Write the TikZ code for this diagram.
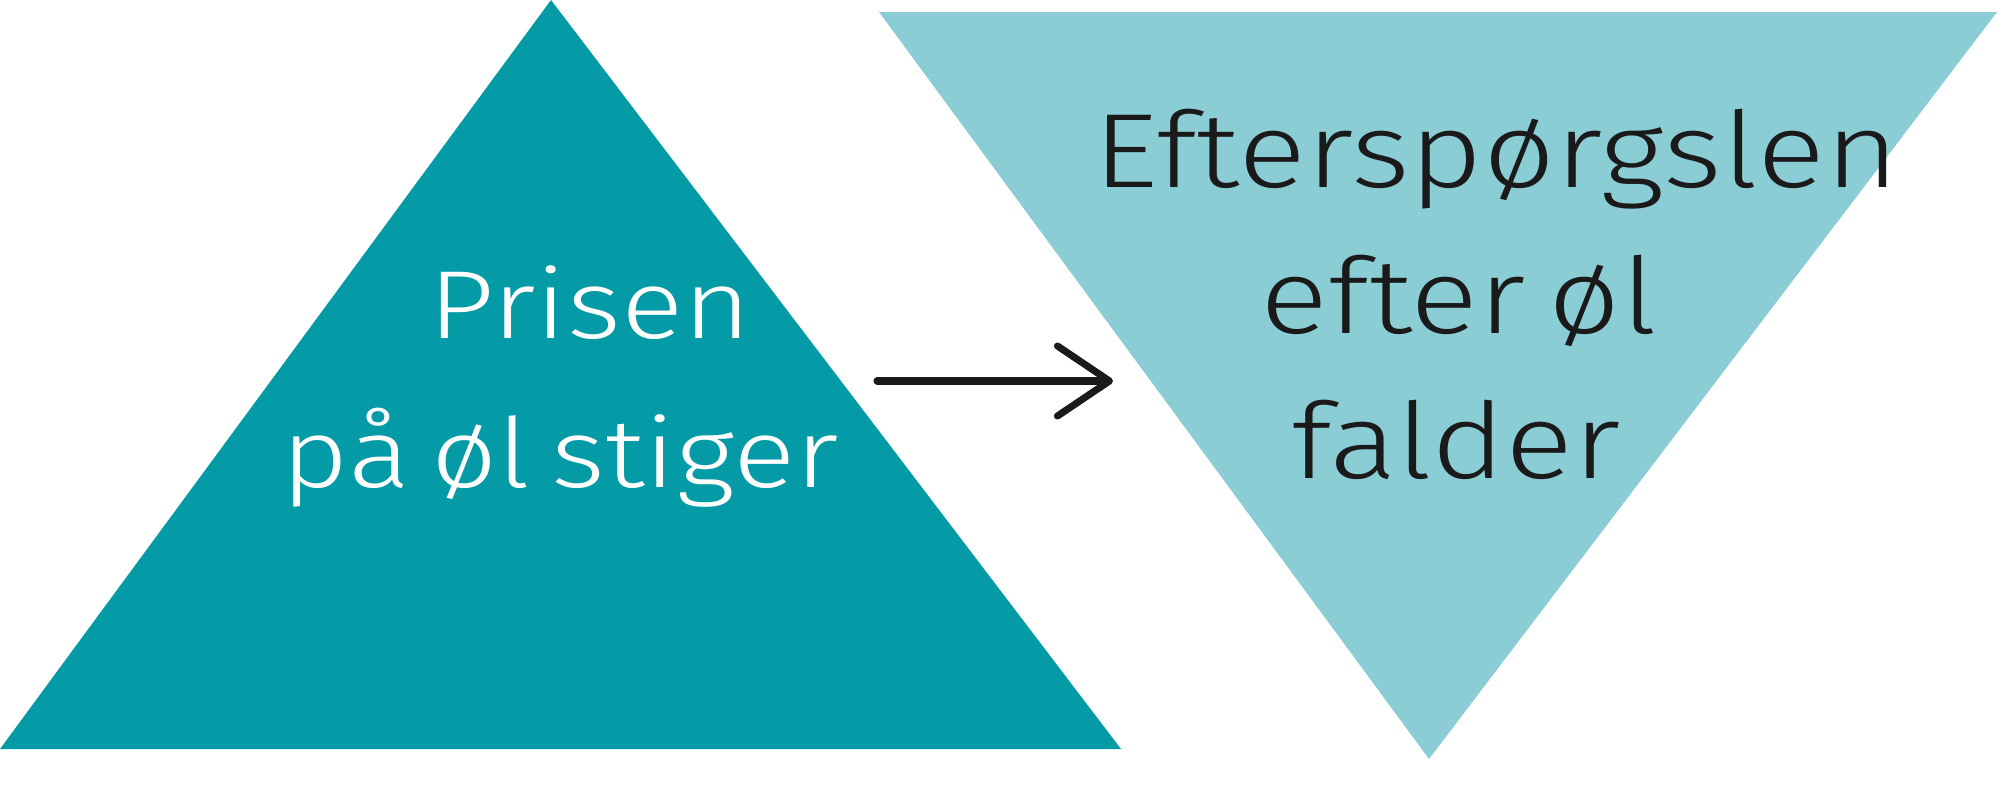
\documentclass[tikz,border=0pt]{standalone}
\usepackage{fontspec}
\setmainfont{Fira Sans Light}[FakeStretch=1.2,WordSpace=0.65]
\usetikzlibrary{arrows.meta}
\definecolor{darkteal}{HTML}{049AA6}
\definecolor{lightteal}{HTML}{8BCDD5}
\definecolor{inkblack}{HTML}{1A1A1A}
\begin{document}
\begin{tikzpicture}[x=0.01cm,y=-0.01cm,
  lbl/.style={inner sep=0pt,anchor=base west},
  upl/.style={lbl,text=white,font=\fontsize{27.5}{33}\selectfont},
  dnl/.style={lbl,text=inkblack,font=\fontsize{30}{36}\selectfont},
  conn/.style={draw=inkblack,line width=2pt,line cap=round,-{Straight Barb[length=0.52cm,width=0.70cm,line width=2pt,line cap=round,line join=round]}}]
\useasboundingbox (0,0) rectangle (2000,800);
% triangles
\fill[darkteal] (0,749) -- (551,0) -- (1121,749) -- cycle;
\fill[lightteal] (879,12) -- (1997,12) -- (1429,759) -- cycle;
% labels
\node[upl] (up1) at (428,338) {Prisen};
\node[upl] (up2) at (281,487) {på øl stiger};
\node[dnl] (dn1) at (1093,187) {Efterspørgslen};
\node[dnl] (dn2) at (1260,333) {efter øl};
\node[dnl] (dn3) at (1291,478) {falder};
% connector
\coordinate (from) at (877,381);
\coordinate (to) at (1113,381);
\draw[conn] (from) -- (to);
\end{tikzpicture}
\end{document}
